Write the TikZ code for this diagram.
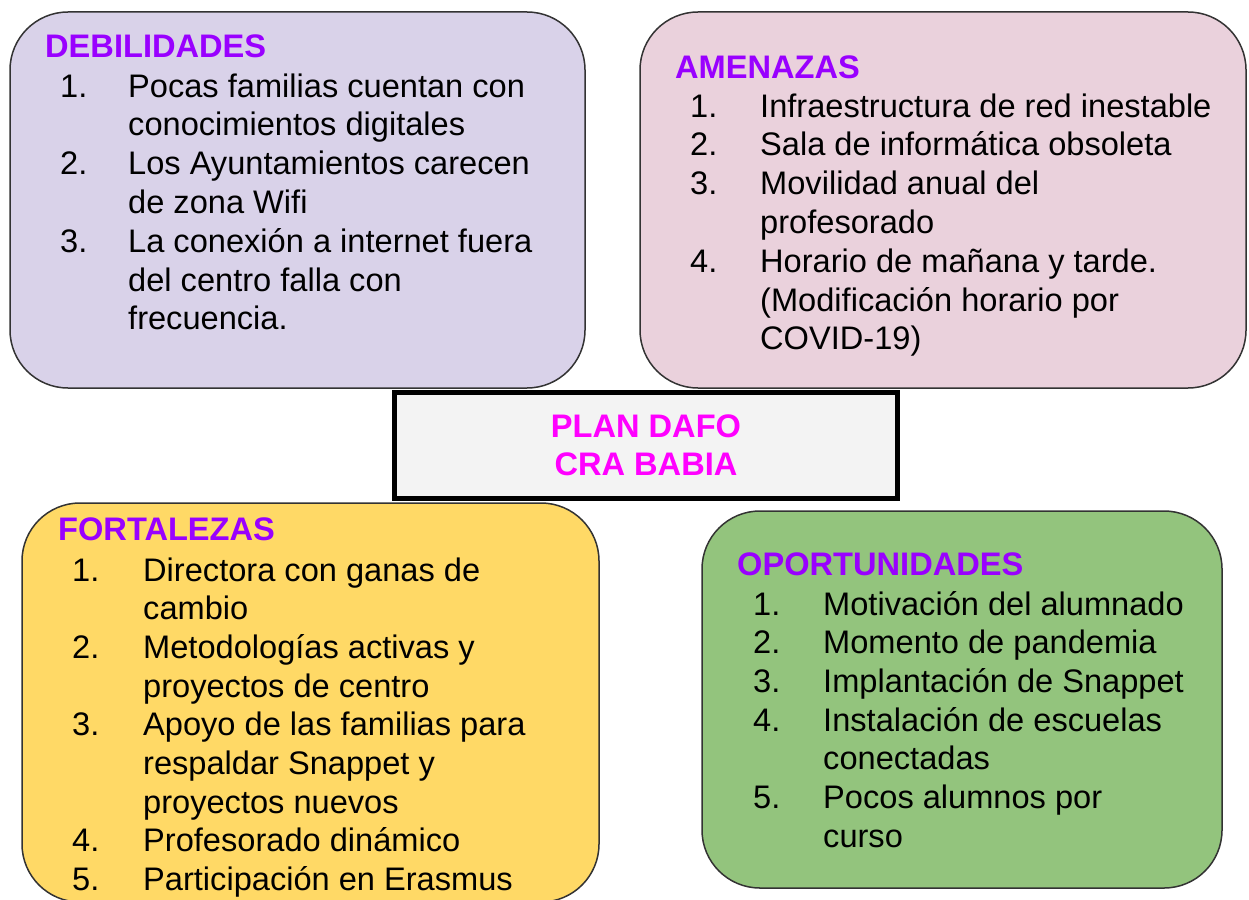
\documentclass[tikz,border=0pt]{standalone}
\usepackage{fontspec}
\setmainfont{Liberation Sans}
\definecolor{debcol}{HTML}{D9D2E9}
\definecolor{amecol}{HTML}{EAD1DC}
\definecolor{forcol}{HTML}{FFD966}
\definecolor{opocol}{HTML}{93C47D}
\definecolor{cencol}{HTML}{F3F3F3}
\definecolor{headcol}{HTML}{9900FF}
\definecolor{titcol}{HTML}{FF00FF}
\definecolor{edgecol}{HTML}{333333}
\tikzset{
  dafobox/.style={draw=edgecol, line width=1.5pt, rounded corners=58pt},
  item/.style={anchor=base west, inner sep=0pt, font=\fontsize{32.6}{38.8}\selectfont, text=black},
  heading/.style={anchor=base west, inner sep=0pt, font=\bfseries\fontsize{32.6}{38.8}\selectfont, text=headcol},
  titletext/.style={anchor=base, inner sep=0pt, font=\bfseries\fontsize{32.6}{38.8}\selectfont, text=titcol}
}
\newcommand{\dafoitems}[6]{%
  \foreach \nm/\tx [count=\i] in {#6} {
    \node[item] (#1n\i) at (#2, {#4+#5*(\i-1)}) {\nm};
    \node[item] (#1t\i) at (#3, {#4+#5*(\i-1)}) {\tx};
  }}
\begin{document}
\begin{tikzpicture}[x=1pt,y=-1pt]
\useasboundingbox (0,0) rectangle (1249,899);
\clip (0,0) rectangle (1249,899);
% boxes
\draw[dafobox, fill=debcol] (10,12) rectangle (585,388);
\draw[dafobox, fill=amecol] (640,12) rectangle (1246,388);
\draw[dafobox, fill=forcol] (22,503) rectangle (599,902);
\draw[dafobox, fill=opocol] (702,511) rectangle (1222,888);
\draw[draw=black, line width=5pt, fill=cencol] (394.5,392.5) rectangle (897.5,498);
% centre title
\node[titletext] (t1) at (646,437) {PLAN DAFO};
\node[titletext] (t2) at (646,475) {CRA BABIA};
% headings
\node[heading] (hd) at (45,58) {DEBILIDADES};
\node[heading] (ha) at (675,78) {AMENAZAS};
\node[heading] (hf) at (58,540) {FORTALEZAS};
\node[heading] (ho) at (737,575) {OPORTUNIDADES};
% lists
\dafoitems{d}{60}{128}{97}{38.8}{1./Pocas familias cuentan con, /conocimientos digitales, 2./Los Ayuntamientos carecen, /de zona Wifi, 3./La conexión a internet fuera, /del centro falla con, /frecuencia.}
\dafoitems{a}{690}{760}{117}{38.8}{1./Infraestructura de red inestable, 2./Sala de informática obsoleta, 3./Movilidad anual del, /profesorado, 4./Horario de mañana y tarde., /{(Modificación horario por}, /{COVID-19)}}
\dafoitems{f}{72}{143}{581}{38.7}{1./Directora con ganas de, /cambio, 2./Metodologías activas y, /proyectos de centro, 3./Apoyo de las familias para, /respaldar Snappet y, /proyectos nuevos, 4./Profesorado dinámico, 5./Participación en Erasmus}
\dafoitems{o}{753}{823}{615}{38.7}{1./Motivación del alumnado, 2./Momento de pandemia, 3./Implantación de Snappet, 4./Instalación de escuelas, /conectadas, 5./Pocos alumnos por, /curso}
\end{tikzpicture}
\end{document}
